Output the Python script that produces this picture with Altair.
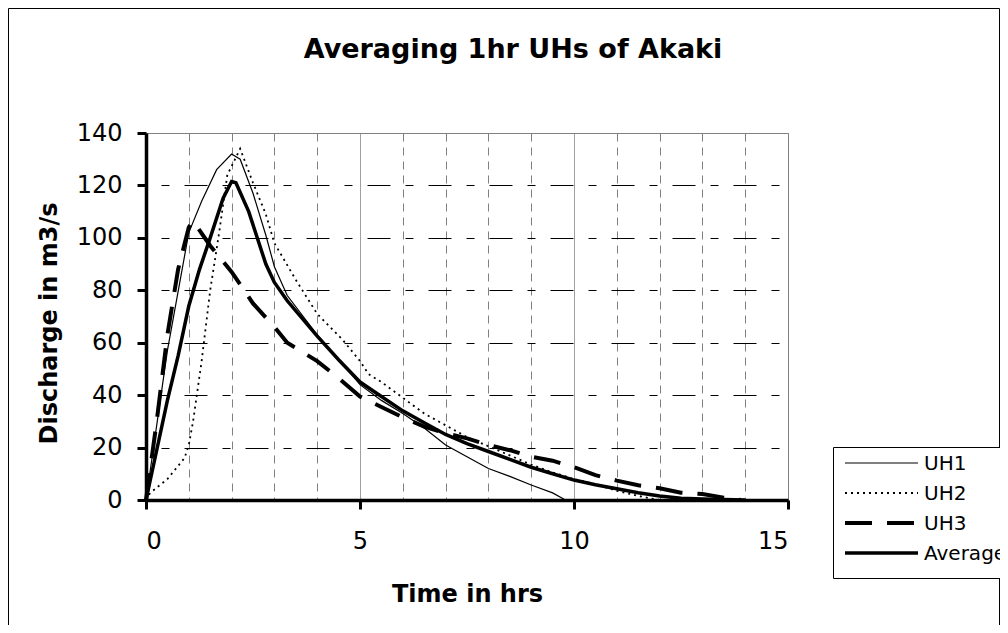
import altair as alt
import pandas as pd

title_text = "Averaging 1hr UHs of Akaki"
x_title = "Time in hrs"
y_title = "Discharge in m3/s"
series_names = ["UH1", "UH2", "UH3", "Average"]

uh1_t = [0, 0.5, 1.0, 1.3, 1.65, 2.0, 2.2, 2.5, 2.8, 3.0, 3.3, 4.0, 4.7, 5.0, 5.5, 6.0, 6.5, 7.0, 7.5, 8.0, 8.5, 9.0, 9.5, 9.8]
uh1_q = [0, 57, 102, 114, 126, 132, 130, 117, 101, 89, 78, 63, 50, 44, 38, 33, 27.5, 21, 16.5, 12, 9, 5.7, 2.7, 0]

uh2_t = [0, 0.1, 0.5, 0.9, 1.0, 1.1, 1.3, 1.5, 1.7, 1.9, 2.2, 2.5, 2.8, 3.0, 3.5, 4.0, 4.6, 5.0, 5.2, 5.5, 6.0, 6.5, 7.0, 7.5, 8.0, 8.5, 9.0, 9.5, 10.0, 10.5, 11.0, 11.6, 12.0]
uh2_q = [0, 2.7, 8, 16, 21, 30, 53, 80, 101, 124, 134, 121, 109, 98, 84, 71, 61, 53, 48, 45, 39, 33, 28.5, 24, 20.5, 17, 13.5, 10.5, 8, 6, 3.5, 1.2, 0]

uh3_t = [0, 0.25, 0.5, 0.75, 1.0, 1.1, 1.5, 2.0, 2.5, 3.0, 3.3, 4.0, 4.5, 5.0, 5.5, 6.0, 6.5, 7.0, 7.5, 8.0, 8.5, 9.0, 9.5, 10.0, 10.5, 11.0, 11.5, 12.0, 12.5, 13.0, 13.5, 13.9]
uh3_q = [0, 30, 63, 88, 104, 106.5, 97, 87, 75, 66, 60, 53, 46.5, 39.5, 35.5, 31.5, 28, 25.5, 23.5, 21, 19, 16.5, 15, 12.5, 9.5, 7.4, 5.6, 4.5, 2.8, 2.3, 0.9, 0]

avg_t = [0, 0.5, 0.75, 1.0, 1.25, 1.5, 1.8, 2.0, 2.1, 2.4, 2.8, 3.0, 3.3, 4.0, 4.5, 5.0, 5.5, 6.0, 6.5, 7.0, 7.5, 8.0, 8.5, 9.0, 9.5, 10.0, 10.5, 11.0, 11.5, 12.0, 12.5, 13.0, 13.5, 14.0]
avg_q = [0, 38, 55, 74, 88, 100, 115, 121.5, 121, 110, 90, 83, 76, 62.5, 53.5, 45, 39.5, 34, 29.5, 25, 21.5, 18.5, 15.5, 12.5, 10, 7.6, 5.8, 4.3, 2.8, 1.5, 0.7, 0.4, 0.2, 0]

FONT = "DejaVu Sans"

styles = {
    "UH1": dict(strokeWidth=1.2),
    "UH2": dict(strokeWidth=1.8, strokeDash=[2, 4]),
    "UH3": dict(strokeWidth=4, strokeDash=[27, 15]),
    "Average": dict(strokeWidth=3.5),
}
series_data = {
    "UH1": (uh1_t, uh1_q),
    "UH2": (uh2_t, uh2_q),
    "UH3": (uh3_t, uh3_q),
    "Average": (avg_t, avg_q),
}

x_axis = alt.Axis(
    values=list(range(0, 16)),
    labelExpr="datum.value % 5 === 0 ? datum.label : ''",
    tickOpacity={"condition": {"test": "datum.value % 5 === 0", "value": 1}, "value": 0},
    grid=True,
    gridColor="#808080",
    gridWidth=1,
    gridDash={"condition": {"test": "datum.value % 5 === 0", "value": [1, 0]}, "value": [8, 6]},
    title=x_title,
    labelPadding=20,
    titleBaseline="alphabetic",
    titleY=101,
)
y_axis = alt.Axis(
    values=list(range(0, 141, 20)),
    grid=True,
    gridColor="black",
    gridWidth=1,
    gridDash=[23, 15, 8, 15],
    gridDashOffset=23,
    gridOpacity={"condition": {"test": "datum.value >= 140", "value": 0}, "value": 1},
    title=y_title,
    labelPadding=15,
    titleAngle=-90,
    titleBaseline="middle",
    titleX=-97,
    titleY=190,
    titleAlign="center",
)

x_enc = alt.X("t:Q", scale=alt.Scale(domain=[0, 15], nice=False, zero=True), axis=x_axis)
y_enc = alt.Y("q:Q", scale=alt.Scale(domain=[0, 140], nice=False), axis=y_axis)

layers = []
for name in series_names:
    t, q = series_data[name]
    d = pd.DataFrame({"t": t, "q": q, "series": name})
    layers.append(
        alt.Chart(d).mark_line(color="black", **styles[name]).encode(x=x_enc, y=y_enc)
    )

one = pd.DataFrame({"k": [0]})
# outer chart border
layers.append(
    alt.Chart(one).mark_rect(fillOpacity=0, stroke="black", strokeWidth=1).encode(
        x=alt.value(-137.5), x2=alt.value(853.5), y=alt.value(-124.5), y2=alt.value(494.5)
    )
)
# chart title
layers.append(
    alt.Chart(pd.DataFrame({"title": [title_text]})).mark_text(
        align="center", baseline="alphabetic", font=FONT, fontSize=27, fontWeight="bold", color="black"
    ).encode(x=alt.value(367), y=alt.value(-75), text="title:N")
)
# legend box
layers.append(
    alt.Chart(one).mark_rect(fill="white", stroke="black", strokeWidth=1).encode(
        x=alt.value(687.5), x2=alt.value(900), y=alt.value(314.5), y2=alt.value(445.5)
    )
)
for i, name in enumerate(series_names):
    yy = 330 + 30 * i
    lab = pd.DataFrame({"label": [name]})
    layers.append(
        alt.Chart(lab).mark_rule(color="black", **styles[name]).encode(
            x=alt.value(699), x2=alt.value(772), y=alt.value(yy)
        )
    )
    layers.append(
        alt.Chart(lab).mark_text(align="left", baseline="middle", font=FONT, fontSize=20, color="black").encode(
            x=alt.value(778), y=alt.value(yy + 1), text="label:N"
        )
    )

chart = alt.layer(*layers).properties(
    width=642,
    height=367,
    padding={"left": 138, "top": 125, "right": 212, "bottom": 125},
    autosize=alt.AutoSizeParams(type="none"),
    background="white",
).configure_view(
    stroke="#808080", strokeWidth=1
).configure_axis(
    domainColor="black", domainWidth=3.5, tickColor="black", tickWidth=3, tickSize=9,
    labelFont=FONT, labelFontSize=24, labelColor="black",
    titleFont=FONT, titleFontSize=24, titleFontWeight="bold", titleColor="black",
)

chart.save("out.html", embed_options={"renderer": "svg", "actions": False})
